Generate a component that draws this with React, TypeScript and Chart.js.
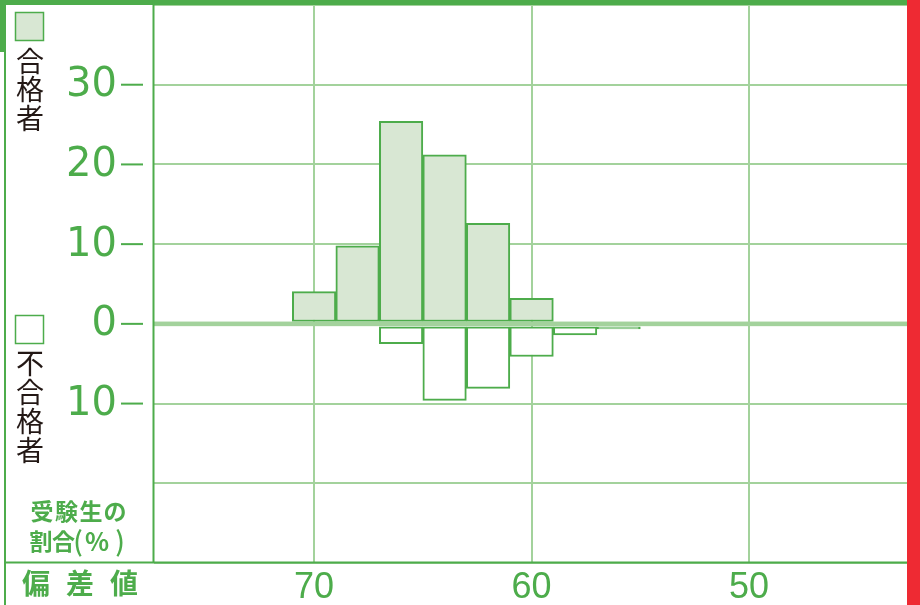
import React, { useEffect, useRef } from 'react';
import { Chart, registerables } from 'chart.js';

Chart.register(...registerables);

// ---- data ----
const bins = [70, 68, 66, 64, 62, 60, 58, 56];
const passPct: (number | null)[] = [4.05, 9.8, 25.4, 21.2, 12.6, 3.2, null, null];
const failPct: (number | null)[] = [null, null, 2.5, 9.6, 8.1, 4.1, 1.4, 0.65];
const xTickValues = [70, 60, 50];
const yGridValues = [-30, -20, -10, 0, 10, 20, 30, 40];
const yLabelValues = [30, 20, 10, 0, -10];
const passLegend = ['合', '格', '者'];
const failLegend = ['不', '合', '格', '者'];
const yTitleLine1 = ['受', '験', '生', 'の'];
const yTitleLine2 = ['割', '合', '(', '%', ')'];
const xTitleChars = ['偏', '差', '値'];

// ---- styles ----
const GREEN = '#4dac4b';
const FILL = '#d8e7d3';
const GRID = '#a3d29c';
const RED = '#ee2a33';
const INK = '#231815';
const CJK = '"Noto Sans CJK JP", "Noto Sans CJK SC", sans-serif';
const line1X = [42, 66.5, 91, 115];
const line2X = [41, 63.5, 78, 97, 120];

const decor = {
  id: 'decor',
  afterDatasetsDraw(chart: any) {
    const { ctx, chartArea, scales } = chart;
    const y0 = scales.y.getPixelForValue(0);
    ctx.save();
    ctx.fillStyle = GRID;
    ctx.fillRect(chartArea.left, y0 - 2.3, chartArea.right - chartArea.left, 4.6);
    ctx.restore();
  },
  afterDraw(chart: any) {
    const { ctx, chartArea, scales } = chart;
    const W = chart.width;
    const H = chart.height;
    ctx.save();
    // frame
    ctx.fillStyle = GREEN;
    ctx.fillRect(0, 0, chartArea.right, 5);
    ctx.fillRect(0, 0, 5, 52);
    ctx.fillRect(4, 0, 2, H);
    ctx.fillRect(chartArea.left - 1.5, 0, 2, chartArea.bottom);
    ctx.fillRect(5, chartArea.bottom - 1.5, chartArea.right - 5, 2);
    ctx.fillStyle = RED;
    ctx.fillRect(chartArea.right, 0, W - chartArea.right, H);

    // y labels with dashes
    ctx.fillStyle = GREEN;
    ctx.font = '40px "DejaVu Sans", sans-serif';
    ctx.textAlign = 'right';
    ctx.textBaseline = 'middle';
    yLabelValues.forEach((v) => {
      const py = scales.y.getPixelForValue(v);
      ctx.fillText(String(Math.abs(v)), 117, py + 1);
      ctx.fillRect(121, py - 1, 22, 2);
    });

    // x labels
    ctx.font = '36px "Liberation Sans", Arial, sans-serif';
    ctx.textAlign = 'center';
    ctx.textBaseline = 'alphabetic';
    xTickValues.forEach((v) => {
      const px = scales.x.getPixelForValue(v);
      ctx.fillText(String(v), px, 598);
    });

    // legend boxes
    ctx.lineWidth = 1.5;
    ctx.strokeStyle = GREEN;
    ctx.fillStyle = FILL;
    ctx.fillRect(15.5, 12.5, 28, 28);
    ctx.strokeRect(15.5, 12.5, 28, 28);
    ctx.fillStyle = '#ffffff';
    ctx.fillRect(15.5, 315.5, 28, 28);
    ctx.strokeRect(15.5, 315.5, 28, 28);

    // legend vertical text
    ctx.fillStyle = INK;
    ctx.font = '28px ' + CJK;
    ctx.textAlign = 'center';
    ctx.textBaseline = 'middle';
    passLegend.forEach((c, i) => ctx.fillText(c, 30, 61 + i * 28.5));
    failLegend.forEach((c, i) => ctx.fillText(c, 30, 363 + i * 29));

    // y title
    ctx.fillStyle = GREEN;
    ctx.font = 'bold 23px ' + CJK;
    yTitleLine1.forEach((c, i) => ctx.fillText(c, line1X[i], 511));
    yTitleLine2.forEach((c, i) => {
      let f = 'bold 23px ';
      if (c === '%') f = 'bold 25px ';
      if (c === '(' || c === ')') f = '500 27px ';
      ctx.font = f + CJK;
      ctx.fillText(c, line2X[i], 541);
    });

    // x title
    ctx.font = 'bold 28px ' + CJK;
    xTitleChars.forEach((c, i) => ctx.fillText(c, 36 + i * 44, 583));
    ctx.restore();
  },
};

export default function App() {
  const ref = useRef<HTMLCanvasElement | null>(null);
  useEffect(() => {
    if (!ref.current) return;
    const chart = new Chart(ref.current, {
      type: 'bar',
      data: {
        datasets: [
          {
            label: '合格者',
            data: bins.map((b, i) => ({ x: b, y: passPct[i] })) as any,
            backgroundColor: FILL,
            borderColor: GREEN,
            borderWidth: 2,
            borderSkipped: false,
            base: 0.3,
            grouped: false,
            barPercentage: 1,
            categoryPercentage: 1,
          } as any,
          {
            label: '不合格者',
            data: bins.map((b, i) => ({ x: b, y: failPct[i] == null ? null : -(failPct[i] as number) })) as any,
            backgroundColor: '#ffffff',
            borderColor: GREEN,
            borderWidth: 2,
            borderSkipped: false,
            base: -0.38,
            grouped: false,
            barPercentage: 1,
            categoryPercentage: 1,
          } as any,
        ],
      },
      options: {
        animation: false,
        responsive: false,
        layout: { padding: { left: 154, top: 5, right: 13, bottom: 42 } },
        plugins: { legend: { display: false }, tooltip: { enabled: false } },
        scales: {
          x: {
            type: 'linear',
            reverse: true,
            min: 42.74,
            max: 77.36,
            offset: false,
            afterBuildTicks: (s: any) => {
              s.ticks = xTickValues.map((v) => ({ value: v }));
            },
            ticks: { display: false },
            grid: { color: GRID, lineWidth: 2, drawTicks: false, offset: false },
            border: { display: false },
          },
          y: {
            type: 'linear',
            min: -30,
            max: 40,
            afterBuildTicks: (s: any) => {
              s.ticks = yGridValues.map((v) => ({ value: v }));
            },
            ticks: { display: false },
            grid: { color: GRID, lineWidth: 2, drawTicks: false },
            border: { display: false },
          },
        },
      } as any,
      plugins: [decor],
    });
    return () => chart.destroy();
  }, []);
  return (
    <div style={{ position: 'absolute', left: 0, top: 0, width: 920, height: 605, background: '#fff' }}>
      <canvas ref={ref} width={920} height={605} />
    </div>
  );
}
